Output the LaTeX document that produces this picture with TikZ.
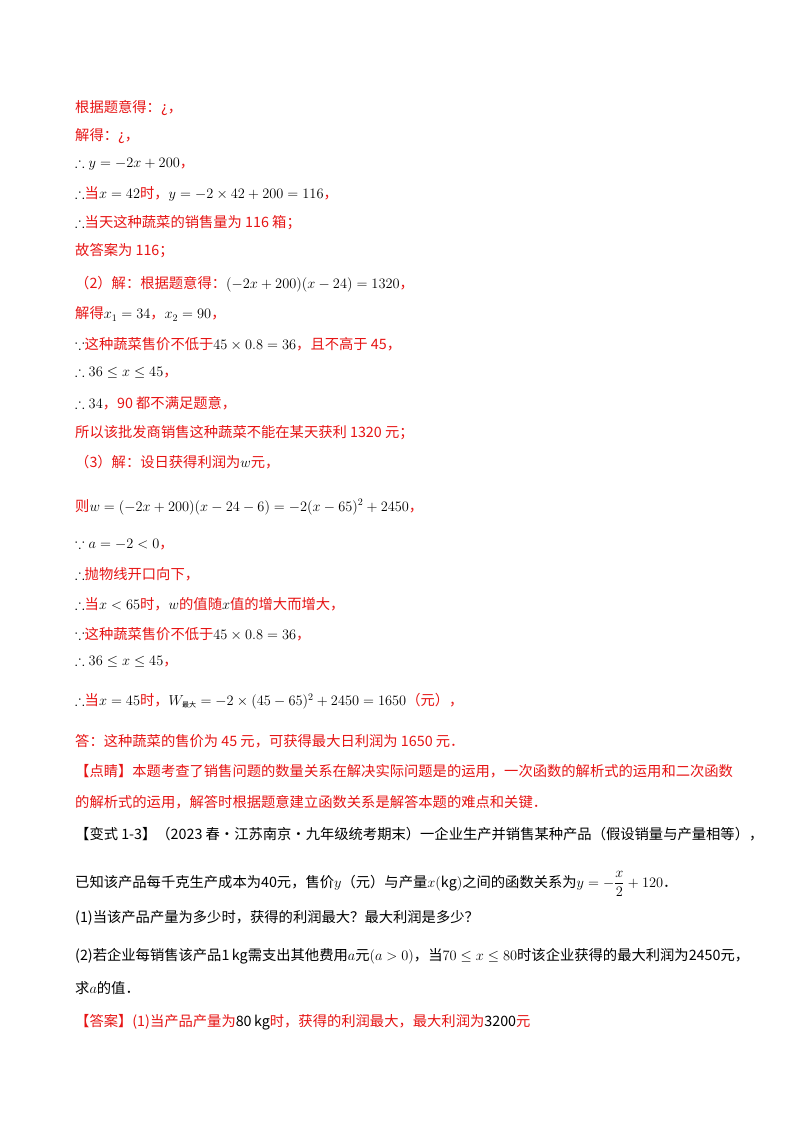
\documentclass[tikz,border=0pt]{standalone}
\usepackage{amsmath,amssymb}
\usepackage{fontspec}
\setmainfont{Noto Sans CJK SC}
\definecolor{ansred}{RGB}{230,20,20}
\newcommand{\rd}[1]{\textcolor{ansred}{#1}}
\tikzset{txtline/.style={anchor=west,inner sep=0pt,font=\fontsize{14.3}{17}\selectfont}}
\begin{document}
\begin{tikzpicture}[x=1pt,y=-1pt]
\useasboundingbox (0,0) rectangle (800,1132);
\node[txtline] (l1) at (75,108) {\rd{根据题意得：¿，}};
\node[txtline] (l2) at (75,136) {\rd{解得：¿，}};
\node[txtline] (l3) at (75,164) {$\therefore y=-2x+200$\rd{，}};
\node[txtline] (l4) at (75,194) {$\therefore$\rd{当}$x=42$\rd{时，}$y=-2\times42+200=116$\rd{，}};
\node[txtline] (l5) at (75,223) {$\therefore$\rd{当天这种蔬菜的销售量为 116 箱；}};
\node[txtline] (l6) at (75,251) {\rd{故答案为 116；}};
\node[txtline] (l7) at (75,284) {\rd{（2）解：根据题意得：}$(-2x+200)(x-24)=1320$\rd{，}};
\node[txtline] (l8) at (75,314) {\rd{解得}$x_1=34$\rd{，}$x_2=90$\rd{，}};
\node[txtline] (l9) at (75,344) {$\because$\rd{这种蔬菜售价不低于}$45\times0.8=36$\rd{，且不高于 45，}};
\node[txtline] (l10) at (75,373) {$\therefore 36\le x\le45$\rd{，}};
\node[txtline] (l11) at (75,403) {$\therefore 34$\rd{，90 都不满足题意，}};
\node[txtline] (l12) at (75,433) {\rd{所以该批发商销售这种蔬菜不能在某天获利 1320 元；}};
\node[txtline] (l13) at (75,462) {\rd{（3）解：设日获得利润为}$w$\rd{元，}};
\node[txtline] (l14) at (75,507) {\rd{则}$w=(-2x+200)(x-24-6)=-2(x-65)^2+2450$\rd{，}};
\node[txtline] (l15) at (75,544) {$\because a=-2<0$\rd{，}};
\node[txtline] (l16) at (75,574) {$\therefore$\rd{抛物线开口向下，}};
\node[txtline] (l17) at (75,604) {$\therefore$\rd{当}$x<65$\rd{时，}$w$\rd{的值随}$x$\rd{值的增大而增大，}};
\node[txtline] (l18) at (75,634) {$\because$\rd{这种蔬菜售价不低于}$45\times0.8=36$\rd{，}};
\node[txtline] (l19) at (75,662) {$\therefore 36\le x\le45$\rd{，}};
\node[txtline] (l20) at (75,701) {$\therefore$\rd{当}$x=45$\rd{时，}$W_{\text{\scriptsize 最大}}=-2\times(45-65)^2+2450=1650$\rd{（元），}};
\node[txtline] (l21) at (75,741) {\rd{答：这种蔬菜的售价为 45 元，可获得最大日利润为 1650 元．}};
\node[txtline] (l22) at (75,771) {\rd{【点睛】本题考查了销售问题的数量关系在解决实际问题是的运用，一次函数的解析式的运用和二次函数}};
\node[txtline] (l23) at (75,802) {\rd{的解析式的运用，解答时根据题意建立函数关系是解答本题的难点和关键．}};
\node[txtline] (l24) at (75,834) {【变式 1-3】（2023 春·江苏南京·九年级统考期末）一企业生产并销售某种产品（假设销量与产量相等），};
\node[txtline] (l25) at (75,884) {已知该产品每千克生产成本为40元，售价$y$（元）与产量$x(\mathrm{kg})$之间的函数关系为$y=-\dfrac{x}{2}+120$．};
\node[txtline] (l26) at (75,918) {(1)当该产品产量为多少时，获得的利润最大？最大利润是多少？};
\node[txtline] (l27) at (75,956) {(2)若企业每销售该产品1$\,\mathrm{kg}$需支出其他费用$a$元$(a>0)$，当$70\le x\le80$时该企业获得的最大利润为2450元，};
\node[txtline] (l28) at (75,988) {求$a$的值．};
\node[txtline] (l29) at (75,1022) {\rd{【答案】(1)当产品产量为}80$\,$kg\rd{时，获得的利润最大，最大利润为}3200\rd{元}};
\end{tikzpicture}
\end{document}
